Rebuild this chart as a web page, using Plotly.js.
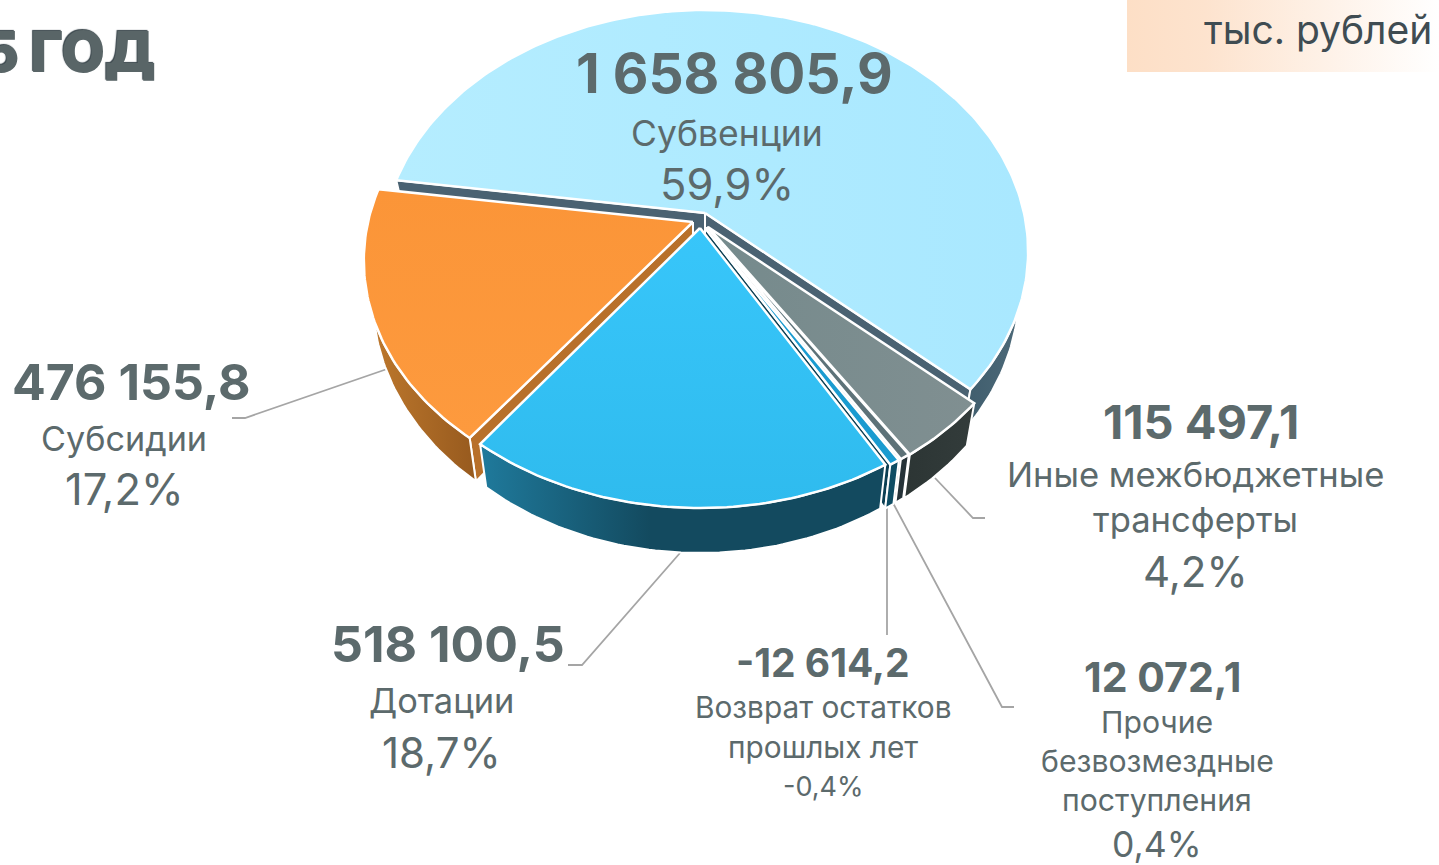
<!DOCTYPE html>
<html><head><meta charset="utf-8">
<script src="https://cdn.plot.ly/plotly-3.0.1.min.js"></script>
<style>html,body{margin:0;padding:0;background:#fff;overflow:hidden}#c{width:1439px;height:865px}</style>
</head><body><div id="c"></div>
<script>
// ---- data ----
const categories = ["Субвенции","Иные межбюджетные трансферты","Прочие безвозмездные поступления","Возврат остатков прошлых лет","Дотации","Субсидии"];
const values = [1658805.9,115497.1,12072.1,12614.2,518100.5,476155.8];
const valueLabels = ["1 658 805,9","115 497,1","12 072,1","-12 614,2","518 100,5","476 155,8"];
const shareLabels = ["59,9%","4,2%","0,4%","-0,4%","18,7%","17,2%"];
const nameLines = [["Субвенции"],["Иные межбюджетные","трансферты"],["Прочие","безвозмездные","поступления"],["Возврат остатков","прошлых лет"],["Дотации"],["Субсидии"]];
const unitLabel = "тыс. рублей";
const titleLabel = "5 ГОД";

// ---- styles ----
const topColors = [["#b5edff","#a9e8ff"],["#758a8c","#808f91"],["#5d7278","#5d7278"],["#1a9bd0","#1a9bd0"],["#2fbbee","#38c6fa"],["#fd9a3e","#fb9538"]];
const topGradType = ["horizontal","horizontal","horizontal","horizontal","vertical","vertical"];
const sideColors = [["#3f5d6d","#4f6b7a"],["#2c3534","#333c3b"],["#253238","#253238"],["#0e4c63","#0e4c63"],["#1f7a9c","#134a5f"],["#c07a2e","#975a1e"]];
const sideStop = [1,1,1,1,0.42,1];
const wallColors = ["#4a6272","#30393a","#263338","#0c3f53","#135068","#b8702a"];
const wallEdges = [["start","end"],["end"],["end"],["end"],[],["start"]];
const apexX = [705,708,707,705,700,693];
const apexY = [213,227,227,228,228,222];
const radius = [319,320,320,320,320,325];
const drawOrder = [0,5,1,2,3,4];
const startAngle = 171.8, camD = 6.27, radiusY = 235.4, depth = 45, converge = 0.972;

const total = values.reduce((a,b)=>a+b,0);
function rimPoint(i,a){const t=a*Math.PI/180,u=Math.cos(t),v=Math.sin(t),s=camD/(camD+v);
  return [apexX[i]+radius[i]*u*s, apexY[i]-radiusY*v*s, s, v];}
function lowPoint(i,p){return [apexX[i]+(p[0]-apexX[i])*converge, p[1]+depth*p[2]/1.19];}
function poly(xs,ys,cols,type,w,stop){
  const scale=(stop&&stop<1)?[[0,cols[0]],[stop,cols[1]],[1,cols[1]]]:[[0,cols[0]],[1,cols[1]]];
  return {type:"scatter",mode:"lines",x:xs,y:ys,fill:"toself",hoverinfo:"skip",showlegend:false,
    line:{color:"#ffffff",width:w||2},
    fillgradient:{type:type,colorscale:scale}};
}
const spans=[];let acc=startAngle;
values.forEach(v=>{const d=v/total*360;spans.push([acc,acc-d]);acc-=d;});

const traces=[];
// unit plate
traces.push({type:"scatter",mode:"lines",x:[1127,1439,1439,1127,1127],y:[0,0,72,72,0],fill:"toself",hoverinfo:"skip",showlegend:false,
  line:{width:0,color:"rgba(0,0,0,0)"},fillgradient:{type:"horizontal",colorscale:[[0,"#fddfc6"],[0.25,"#fde3ce"],[1,"#ffffff"]]}});
drawOrder.forEach(i=>{
  const [a0,a1]=spans[i];
  const arc=[];const n=Math.max(3,Math.ceil(a0-a1));
  for(let k=0;k<=n;k++)arc.push(rimPoint(i,a0+(a1-a0)*k/n));
  const ap=[apexX[i],apexY[i],1],apB=lowPoint(i,ap);
  // radial walls that show through the gaps between slices
  wallEdges[i].forEach(edge=>{
    const p=edge==="start"?arc[0]:arc[arc.length-1];
    const b=lowPoint(i,p);
    traces.push(poly([ap[0],p[0],b[0],apB[0],ap[0]],[ap[1],p[1],b[1],apB[1],ap[1]],[wallColors[i],wallColors[i]],"horizontal",2));
  });
  // outer side: only the part of the rim that faces the viewer
  const front=arc.filter(p=>p[3]<0.12);
  const lowArc=front.map(p=>lowPoint(i,p)).reverse();
  const sx=front.map(p=>p[0]).concat(lowArc.map(p=>p[0])),sy=front.map(p=>p[1]).concat(lowArc.map(p=>p[1]));
  sx.push(sx[0]);sy.push(sy[0]);
  traces.push(poly(sx,sy,sideColors[i],"horizontal",2,sideStop[i]));
  // top face
  const fx=[ap[0]].concat(arc.map(p=>p[0]),[ap[0]]),fy=[ap[1]].concat(arc.map(p=>p[1]),[ap[1]]);
  traces.push(poly(fx,fy,topColors[i],topGradType[i],2.5));
});

// ---- texts ----
const FONT='Inter, sans-serif',TXT="#5c6a6c";
const anns=[];
function T(text,x,y,size,weight,color,anchor){
  anns.push({text:text,x:x,y:y,xref:"x",yref:"y",xanchor:anchor||"center",yanchor:"middle",showarrow:false,
    font:{family:FONT,size:size,color:color||TXT,weight:weight||400}});
}
const pos=[
 {c:[734,73,55],n:[[727,133]],ns:35.5,s:[727,184,43.5]},
 {c:[1201,421,47],n:[[1195,474],[1195,519]],ns:34.6,s:[1195,571,42]},
 {c:[1162,677,41],n:[[1157,722],[1157,761],[1157,800]],ns:30.2,s:[1157,844,35.5]},
 {c:[823,662,39],n:[[823,707],[823,747]],ns:29.8,s:[823,786,27]},
 {c:[448,644,50],n:[[441,700]],ns:34.4,s:[441,752,42]},
 {c:[131,382,50],n:[[124,438]],ns:34.2,s:[124,489,43.5]}
];
categories.forEach((c,i)=>{
  const p=pos[i];
  T(valueLabels[i],p.c[0],p.c[1],p.c[2],700);
  nameLines[i].forEach((l,k)=>T(l,p.n[k][0],p.n[k][1],p.ns,400));
  T(shareLabels[i],p.s[0],p.s[1],p.s[2],400);
});
T(unitLabel,1434,29,39,400,"#3f4c52","right");
anns.push({text:titleLabel,x:158,y:52,xref:"x",yref:"y",xanchor:"right",yanchor:"middle",showarrow:false,
  font:{family:FONT,size:56,weight:900,color:"#596567",shadow:"-1px -1px 1px #38444a"}});

// ---- leader lines ----
const leaders=[
 [[390,368],[245,418],[232,418]],
 [[680,553],[582,665],[568,665]],
 [[887,505],[887,635]],
 [[893,503],[1002,707],[1014,707]],
 [[935,478],[973,518],[985,518]]
];
const shapes=leaders.map(l=>({type:"path",layer:"below",xref:"x",yref:"y",
  path:"M"+l.map(p=>p.join(",")).join("L"),line:{color:"#a5a5a5",width:1.8}}));

Plotly.newPlot("c",traces,{
  width:1439,height:865,margin:{l:0,r:0,t:0,b:0},paper_bgcolor:"#ffffff",plot_bgcolor:"#ffffff",showlegend:false,
  xaxis:{range:[0,1439],visible:false,fixedrange:true},
  yaxis:{range:[865,0],visible:false,fixedrange:true},
  annotations:anns,shapes:shapes
},{displayModeBar:false,staticPlot:true});
</script></body></html>
